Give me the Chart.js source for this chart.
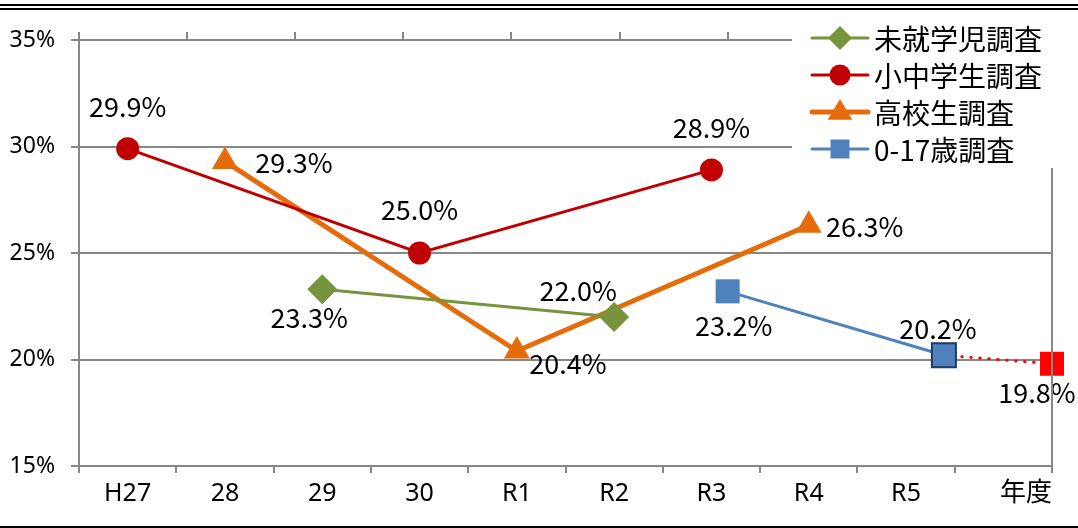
<!DOCTYPE html>
<html>
<head>
<meta charset="utf-8">
<script src="https://cdn.jsdelivr.net/npm/chart.js@4/dist/chart.umd.min.js"></script>
<style>
  html, body { margin: 0; padding: 0; background: #fff; }
  #wrap { position: relative; width: 1078px; height: 528px; overflow: hidden; }
  #topline { position: absolute; left: 0; top: 4px; width: 1078px; height: 2px; border-top: 2px solid #000; border-bottom: 2px solid #000; }
  #bottomline { position: absolute; left: 0; top: 526px; width: 1078px; height: 2px; background: #000; }
  canvas { position: absolute; left: 0; top: 0; }
</style>
</head>
<body>
<div id="wrap">
  <canvas id="chart" width="1078" height="528"></canvas>
  <div id="topline"></div>
  <div id="bottomline"></div>
</div>
<script>
// 年度（H27〜R5）
const categories = ['H27', '28', '29', '30', 'R1', 'R2', 'R3', 'R4', 'R5', ''];
const unitLabel = '年度';

// 各調査の結果（%）
const preschool = [null, null, 23.3, null, null, 22.0, null, null, null, null];
const schoolkids = [29.9, null, null, 25.0, null, null, 28.9, null, null, null];
const highschool = [null, 29.3, null, null, 20.4, null, null, 26.3, null, null];

// 0-17歳調査は第2横軸（0〜9の目盛り）に乗っている
const age017Pos = [6, 8];
const age017 = [23.2, 20.2];
const estimatePos = [8, 9];
const estimate = [20.2, 19.8];

const seriesNames = ['未就学児調査', '小中学生調査', '高校生調査', '0-17歳調査'];

const gray = '#878787';
const xTickFont = { family: '"Noto Sans", sans-serif', size: 25 };
const yTickFont = { family: '"Noto Sans", sans-serif', size: 23 };
const labelFont = '27px "Noto Sans CJK JP", "Noto Sans", sans-serif';

function toXY(xs, ys) {
    return xs.map((x, i) => ({ x: x, y: ys[i] }));
}

// データラベル（値％）を点の近くに描く
const valueLabels = {
    id: 'valueLabels',
    afterDatasetsDraw(chart) {
        const ctx = chart.ctx;
        ctx.save();
        ctx.font = labelFont;
        ctx.fillStyle = '#000';
        ctx.textAlign = 'center';
        ctx.textBaseline = 'middle';
        chart.data.datasets.forEach((ds, i) => {
            const meta = chart.getDatasetMeta(i);
            meta.data.forEach((pt, j) => {
                const off = ds.labelOffsets && ds.labelOffsets[j];
                if (!off) return;
                const raw = ds.data[j];
                const v = (raw !== null && typeof raw === 'object') ? raw.y : raw;
                if (v === null || v === undefined) return;
                ctx.fillText(v.toFixed(1) + '%', pt.x + off[0], pt.y + off[1]);
            });
        });
        ctx.restore();
    }
};

function drawMarker(ctx, style, x, y, r, color) {
    ctx.fillStyle = color;
    ctx.beginPath();
    if (style === 'rectRot') {
        ctx.moveTo(x, y - r); ctx.lineTo(x + r, y); ctx.lineTo(x, y + r); ctx.lineTo(x - r, y);
    } else if (style === 'circle') {
        ctx.arc(x, y, r, 0, Math.PI * 2);
    } else if (style === 'triangle') {
        ctx.moveTo(x, y - r); ctx.lineTo(x + r * 0.95, y + r * 0.6); ctx.lineTo(x - r * 0.95, y + r * 0.6);
    } else {
        ctx.rect(x - r, y - r, r * 2, r * 2);
    }
    ctx.closePath();
    ctx.fill();
}

// 右枠線・凡例・「年度」
const frameAndLegend = {
    id: 'frameAndLegend',
    afterDraw(chart) {
        const ctx = chart.ctx;
        const area = chart.chartArea;
        ctx.save();
        ctx.strokeStyle = gray;
        ctx.lineWidth = 2;
        ctx.beginPath();
        ctx.moveTo(area.right, area.top);
        ctx.lineTo(area.right, area.bottom + 7);
        ctx.stroke();

        ctx.font = '26px "Noto Sans CJK JP", sans-serif';
        ctx.fillStyle = '#000';
        ctx.textAlign = 'right';
        ctx.textBaseline = 'middle';
        ctx.fillText(unitLabel, area.right, 491);

        // 凡例
        ctx.fillStyle = '#fff';
        ctx.fillRect(792, 14, 286, 154);
        const rows = [38, 75, 112, 149];
        const markers = [['rectRot', 12], ['circle', 10.5], ['triangle', 13], ['rect', 9.5]];
        ctx.font = '28px "Noto Sans CJK JP", sans-serif';
        ctx.textAlign = 'left';
        seriesNames.forEach((name, i) => {
            const ds = chart.data.datasets[i];
            const y = rows[i];
            ctx.strokeStyle = ds.borderColor;
            ctx.lineWidth = ds.borderWidth;
            ctx.lineCap = 'round';
            ctx.beginPath();
            ctx.moveTo(812, y);
            ctx.lineTo(868, y);
            ctx.stroke();
            drawMarker(ctx, markers[i][0], 840, y, markers[i][1], ds.pointBackgroundColor);
            ctx.fillStyle = '#000';
            ctx.fillText(name, 874, y + 1);
        });
        ctx.restore();
    }
};

new Chart(document.getElementById('chart'), {
    type: 'line',
    data: {
        labels: categories,
        datasets: [
            {
                label: seriesNames[0],
                data: preschool,
                xAxisID: 'x',
                borderColor: '#77933C',
                backgroundColor: '#77933C',
                pointBackgroundColor: '#77933C',
                pointBorderWidth: 0,
                borderWidth: 3,
                pointStyle: 'rectRot',
                pointRadius: 15,
                spanGaps: true,
                labelOffsets: [null, null, [-13, 29], null, null, [-36, -26], null, null, null, null]
            },
            {
                label: seriesNames[1],
                data: schoolkids,
                xAxisID: 'x',
                borderColor: '#C00000',
                backgroundColor: '#C00000',
                pointBackgroundColor: '#C00000',
                pointBorderWidth: 0,
                borderWidth: 3,
                pointStyle: 'circle',
                pointRadius: 11.5,
                spanGaps: true,
                labelOffsets: [[0, -42], null, null, [0, -43], null, null, [0, -42], null, null, null]
            },
            {
                label: seriesNames[2],
                data: highschool,
                xAxisID: 'x',
                borderColor: '#E46C0A',
                backgroundColor: '#E46C0A',
                pointBackgroundColor: '#E46C0A',
                pointBorderWidth: 0,
                borderWidth: 5,
                pointStyle: 'triangle',
                pointRadius: 15,
                spanGaps: true,
                labelOffsets: [null, [69, 1], null, null, [51, 13], null, null, [56, 1], null, null]
            },
            {
                label: seriesNames[3],
                data: toXY(age017Pos, age017),
                xAxisID: 'x2',
                borderColor: '#4F81BD',
                backgroundColor: '#4F81BD',
                pointBackgroundColor: '#4F81BD',
                pointBorderColor: ['#4F81BD', '#1F3864'],
                pointBorderWidth: [0, 2],
                borderWidth: 3,
                pointStyle: 'rect',
                pointRadius: 17,
                clip: false,
                labelOffsets: [[6, 34], [-6, -27]]
            },
            {
                label: '推計',
                data: toXY(estimatePos, estimate),
                xAxisID: 'x2',
                borderColor: '#FF0000',
                backgroundColor: '#FF0000',
                pointBackgroundColor: '#FF0000',
                pointBorderWidth: 0,
                borderWidth: 3,
                borderDash: [0.5, 8.5],
                borderCapStyle: 'round',
                pointStyle: 'rect',
                pointRadius: [0, 17],
                clip: false,
                labelOffsets: [null, [-15, 29]]
            }
        ]
    },
    options: {
        responsive: false,
        animation: false,
        events: [],
        layout: { padding: { left: 0, top: 0, right: 26, bottom: 0 } },
        plugins: {
            legend: { display: false },
            tooltip: { enabled: false }
        },
        scales: {
            x: {
                type: 'category',
                position: 'bottom',
                offset: true,
                grid: { offset: true, drawOnChartArea: false, drawTicks: true, tickLength: 7, color: gray, lineWidth: 2 },
                border: { color: gray, width: 2 },
                ticks: { color: '#000', font: xTickFont, padding: 6, maxRotation: 0, autoSkip: false },
                afterFit(scale) { scale.height = 62; }
            },
            x2: {
                type: 'linear',
                position: 'top',
                min: 0,
                max: 9,
                grid: { drawOnChartArea: false, drawTicks: true, tickLength: 8, color: gray, lineWidth: 2 },
                border: { display: false },
                ticks: { display: false, stepSize: 1 },
                afterFit(scale) { scale.height = 40; }
            },
            y: {
                min: 15,
                max: 35,
                grid: { color: gray, lineWidth: 2, tickLength: 8 },
                border: { color: gray, width: 2 },
                ticks: {
                    stepSize: 5,
                    color: '#000',
                    font: yTickFont,
                    padding: 16,
                    callback: v => v + '%'
                },
                afterFit(scale) { scale.width = 79; }
            }
        }
    },
    plugins: [valueLabels, frameAndLegend]
});
</script>
</body>
</html>
